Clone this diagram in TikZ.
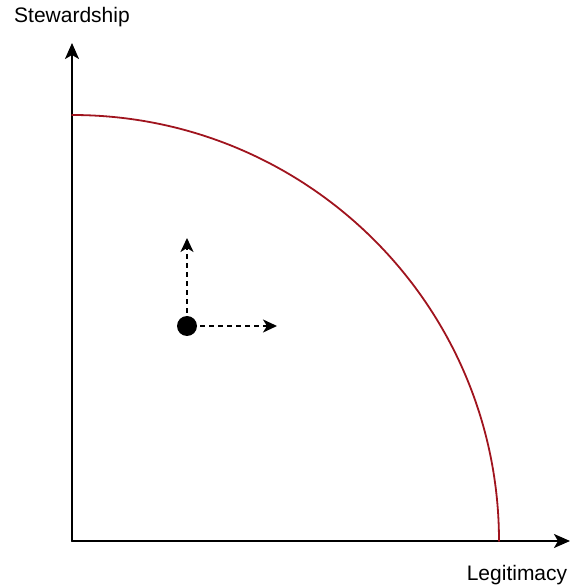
\documentclass[tikz,border=0pt]{standalone}
\usepackage{fontspec}
\setmainfont{Liberation Sans}
\usepackage{tikz}
\usetikzlibrary{arrows.meta}
\usepackage{xcolor}
\definecolor{frontier}{RGB}{160,20,30}

\begin{document}
\begin{tikzpicture}[x=1pt,y=1pt,>={Stealth[length=16pt,width=14pt,inset=4pt]},font=\fontsize{21}{25}\selectfont,line cap=round]
\tikzset{axisline/.style={->,line width=2pt,black},
  shiftarrow/.style={->,line width=2pt,dash pattern=on 5pt off 4pt,line cap=butt,shorten <=3pt,>={Stealth[length=14pt,width=13pt,inset=4pt]}},
  dotnode/.style={circle,fill=black,minimum size=20pt,inner sep=0pt}}
\useasboundingbox (0,0) rectangle (575,587);
\coordinate (origin) at (72,46);
\coordinate (ytip) at (72,544);
\coordinate (xtip) at (570,46);
\draw[axisline] (origin) -- (ytip);
\draw[axisline] (origin) -- (xtip);
\node (ylabel) at (72,570) {Stewardship};
\node (xlabel) at (517,12) {Legitimacy};
% frontier curve
\draw[frontier,line width=1.8pt] (72,472) arc[start angle=90,end angle=0,x radius=427,y radius=426];
\node[dotnode] (firm) at (187,261) {};
\coordinate (uptip) at (187,349);
\coordinate (righttip) at (277,261);
\draw[shiftarrow] (firm) -- (uptip);
\draw[shiftarrow] (firm) -- (righttip);
\end{tikzpicture}
\end{document}
